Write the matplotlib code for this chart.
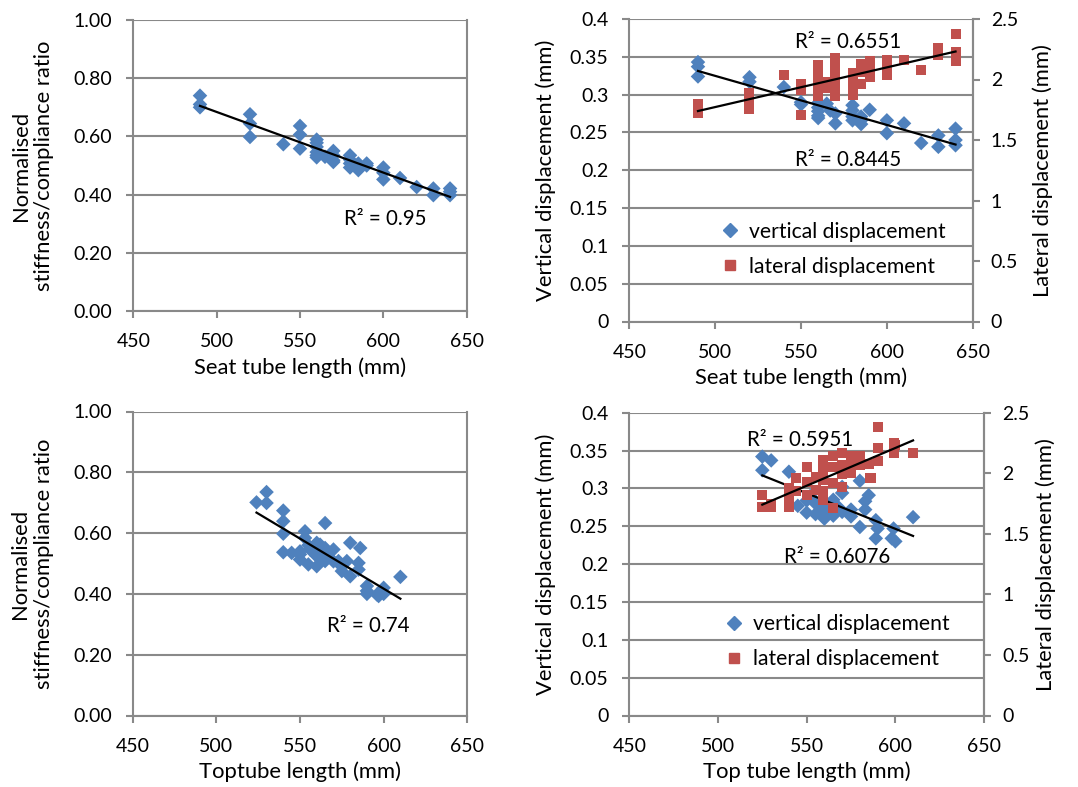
import numpy as np
import matplotlib
matplotlib.use("Agg")
import matplotlib.pyplot as plt
from matplotlib.lines import Line2D

plt.rcParams['font.family'] = ['Lato', 'DejaVu Sans']

# ---------------- data ----------------
# Panel A: seat tube length vs normalised stiffness/compliance ratio
seat_x_a = [490, 490, 490, 520, 520, 520, 540, 550, 550, 550, 560, 560, 560, 560, 560, 560,
            565, 570, 570, 570, 570, 580, 580, 580, 580, 585, 585, 590, 590, 600, 600, 600,
            610, 620, 630, 630, 640, 640, 640]
seat_ratio = [0.74, 0.71, 0.70, 0.676, 0.644, 0.598, 0.573, 0.636, 0.606, 0.558, 0.589, 0.578,
              0.564, 0.546, 0.535, 0.528, 0.53, 0.55, 0.535, 0.518, 0.512, 0.535, 0.52, 0.507,
              0.493, 0.484, 0.507, 0.507, 0.50, 0.493, 0.475, 0.452, 0.457, 0.426, 0.421,
              0.398, 0.421, 0.41, 0.398]

# Panel B: seat tube length vs displacements
seat_x_v = [490, 490, 490, 520, 520, 540, 550, 550, 560, 560, 560, 560, 560, 565, 567, 570, 570,
            580, 580, 580, 580, 585, 585, 585, 590, 600, 600, 610, 620, 630, 630, 640, 640, 640]
seat_vert = [0.343, 0.337, 0.324, 0.323, 0.317, 0.310, 0.290, 0.287, 0.289, 0.283, 0.278, 0.272,
             0.269, 0.288, 0.279, 0.275, 0.262, 0.286, 0.279, 0.271, 0.266, 0.271, 0.266, 0.261,
             0.280, 0.266, 0.249, 0.262, 0.236, 0.246, 0.231, 0.255, 0.240, 0.233]
seat_x_l = [490, 490, 490, 520, 520, 520, 520, 540, 550, 550, 550, 560, 560, 560, 560, 560, 560,
            560, 565, 565, 570, 570, 570, 570, 570, 570, 570, 580, 580, 580, 580, 585, 585, 585,
            590, 590, 590, 600, 600, 600, 610, 620, 630, 630, 640, 640, 640]
seat_lat = [1.72, 1.76, 1.80, 1.76, 1.80, 1.85, 1.89, 2.04, 1.96, 1.91, 1.71, 2.12, 2.08, 2.04,
            2.00, 1.95, 1.90, 1.86, 1.98, 1.93, 2.18, 2.13, 2.08, 2.02, 1.97, 1.92, 1.86, 2.05,
            1.99, 1.93, 1.87, 2.13, 2.06, 1.96, 2.15, 2.09, 2.02, 2.16, 2.10, 2.04, 2.16, 2.08,
            2.26, 2.20, 2.38, 2.23, 2.15]

# Panel C: top tube length vs normalised ratio
top_x_c = [524, 530, 530, 540, 540, 540, 540, 545, 550, 550, 553, 553, 555, 556, 560, 560, 560,
           560, 562, 565, 565, 566, 565, 570, 570, 573, 575, 578, 580, 580, 585, 585, 586, 590,
           590, 590, 596, 600, 600, 597, 610, 555, 558, 563, 567, 550, 575]
top_ratio = [0.701, 0.735, 0.699, 0.674, 0.639, 0.598, 0.537, 0.535, 0.53, 0.513, 0.606, 0.584,
             0.497, 0.546, 0.568, 0.552, 0.524, 0.491, 0.562, 0.633, 0.551, 0.53, 0.508, 0.546,
             0.507, 0.508, 0.475, 0.508, 0.568, 0.458, 0.502, 0.48, 0.551, 0.426, 0.41, 0.40,
             0.398, 0.42, 0.40, 0.393, 0.456, 0.56, 0.54, 0.52, 0.535, 0.54, 0.49]

# Panel D: top tube length vs displacements
top_x_v = [525, 530, 525, 540, 545, 550, 550, 555, 555, 560, 560, 565, 565, 570, 570, 570, 575,
           575, 580, 580, 583, 583, 585, 589, 590, 589, 599, 598, 600, 610, 558, 562, 568, 552]
top_vert = [0.342, 0.337, 0.324, 0.322, 0.277, 0.284, 0.268, 0.266, 0.28, 0.26, 0.278, 0.285,
            0.264, 0.302, 0.294, 0.269, 0.263, 0.272, 0.31, 0.249, 0.283, 0.272, 0.291, 0.258,
            0.247, 0.234, 0.247, 0.234, 0.23, 0.262, 0.27, 0.27, 0.275, 0.29]
top_x_l = [525, 525, 530, 530, 540, 540, 540, 544, 544, 550, 550, 550, 555, 555, 559, 559, 559,
           559, 559, 565, 565, 565, 565, 570, 570, 570, 570, 575, 575, 575, 580, 580, 585, 586,
           590, 590, 590, 599, 599, 600, 610]
top_lat = [1.82, 1.72, 1.72, 1.75, 1.88, 1.80, 1.725, 1.96, 1.85, 2.055, 1.93, 1.82, 1.97, 1.86,
           2.11, 2.03, 1.945, 1.85, 1.78, 2.14, 2.055, 1.92, 1.71, 2.17, 2.07, 1.99, 1.89, 2.14,
           2.0, 2.07, 2.14, 2.07, 2.08, 1.96, 2.38, 2.21, 2.10, 2.25, 2.17, 2.235, 2.17]

r2_a = "R² = 0.95"
r2_b_lat = "R² = 0.6551"
r2_b_vert = "R² = 0.8445"
r2_c = "R² = 0.74"
r2_d_lat = "R² = 0.5951"
r2_d_vert = "R² = 0.6076"

ratio_ticks = [0.0, 0.2, 0.4, 0.6, 0.8, 1.0]
vert_ticks = [0, 0.05, 0.1, 0.15, 0.2, 0.25, 0.3, 0.35, 0.4]
lat_ticks = [0, 0.5, 1, 1.5, 2, 2.5]
x_ticks = [450, 500, 550, 600, 650]

# ---------------- style ----------------
BLUE = '#4F81BD'
RED = '#C0504D'
GRID = '#898989'
FS_TICK = 14
FS_TITLE = 15.8
FS_R2 = 14.8
FS_LEG = 15.2

W, H = 1078, 787
fig = plt.figure(figsize=(W / 100, H / 100), dpi=100)


def px_axes(l, r, t, b):
    return fig.add_axes([l / W, 1 - b / H, (r - l) / W, (b - t) / H])


def style_axis(ax, right_spine=False):
    ax.set_xlim(450, 650)
    ax.set_xticks(x_ticks)
    ax.grid(axis='y', color=GRID, lw=1.5)
    ax.set_axisbelow(True)
    ax.spines['top'].set_visible(False)
    ax.spines['right'].set_visible(right_spine)
    for s in ['left', 'bottom', 'right']:
        ax.spines[s].set_color(GRID)
        ax.spines[s].set_linewidth(1.5)
    ax.tick_params(axis='both', direction='out', length=5, width=1.5, color=GRID,
                   labelsize=FS_TICK)
    ax.tick_params(axis='x', pad=11)
    ax.tick_params(axis='y', pad=10)


def trend(ax, x, y):
    x = np.asarray(x, float)
    y = np.asarray(y, float)
    m, c = np.polyfit(x, y, 1)
    xs = np.array([x.min(), x.max()])
    ax.plot(xs, m * xs + c, color='black', lw=1.6, zorder=5)


def ratio_panel(ax, x, y, r2, r2pos, xlabel):
    style_axis(ax, right_spine=True)
    ax.scatter(x, y, marker='D', s=55, color=BLUE, edgecolors='none', zorder=3)
    trend(ax, x, y)
    ax.set_ylim(0, 1.0)
    ax.set_yticks(ratio_ticks)
    ax.set_yticklabels([f"{v:.2f}" for v in ratio_ticks])
    ax.set_xlabel(xlabel, fontsize=FS_TITLE, labelpad=5)
    ax.set_ylabel("Normalised\nstiffness/compliance ratio", fontsize=FS_TITLE, labelpad=14,
                  linespacing=1.2)
    ax.text(r2pos[0], r2pos[1], r2, fontsize=FS_R2, ha='center', va='center')


def disp_panel(ax, xv, v, xl, lat, r2_lat, pos_lat, r2_vert, pos_vert, xlabel, leg_anchor,
               rpad):
    style_axis(ax, right_spine=True)
    ax.set_ylim(0, 0.4)
    ax.set_yticks(vert_ticks)
    ax.set_yticklabels(["0", "0.05", "0.1", "0.15", "0.2", "0.25", "0.3", "0.35", "0.4"])
    ax.set_xlabel(xlabel, fontsize=FS_TITLE, labelpad=5)
    ax.set_ylabel("Vertical displacement (mm)", fontsize=FS_TITLE, labelpad=10)
    ax.scatter(xv, v, marker='D', s=55, color=BLUE, edgecolors='none', zorder=3)
    ax2 = ax.twinx()
    ax2.set_ylim(0, 2.5)
    ax2.set_yticks(lat_ticks)
    ax2.set_yticklabels(["0", "0.5", "1", "1.5", "2", "2.5"])
    for s in ['top', 'left', 'bottom']:
        ax2.spines[s].set_visible(False)
    ax2.spines['right'].set_color(GRID)
    ax2.spines['right'].set_linewidth(1.5)
    ax2.tick_params(axis='y', direction='out', length=5, width=1.5, color=GRID,
                    labelsize=FS_TICK, pad=8)
    ax2.set_ylabel("Lateral displacement (mm)", fontsize=FS_TITLE, labelpad=rpad, rotation=90)
    ax2.scatter(xl, lat, marker='s', s=52, color=RED, edgecolors='none', zorder=3)
    trend(ax, xv, v)
    trend(ax2, xl, lat)
    ax2.text(pos_lat[0], pos_lat[1], r2_lat, fontsize=FS_R2, ha='center', va='center')
    ax2.text(pos_vert[0], pos_vert[1] * 6.25, r2_vert, fontsize=FS_R2, ha='center', va='center')
    handles = [Line2D([], [], ls='none', marker='D', ms=7.5, color=BLUE),
               Line2D([], [], ls='none', marker='s', ms=7.5, color=RED)]
    ax2.legend(handles, ["vertical displacement", "lateral displacement"], loc='upper left',
               bbox_to_anchor=leg_anchor, frameon=False, fontsize=FS_LEG, handlelength=0.8,
               handletextpad=0.5, labelspacing=0.72, borderpad=0, borderaxespad=0)


axA = px_axes(133.3, 466.7, 20, 311)
ratio_panel(axA, seat_x_a, seat_ratio, r2_a, (601, 0.315), "Seat tube length (mm)")

axB = px_axes(629.3, 972.7, 19, 321.5)
disp_panel(axB, seat_x_v, seat_vert, seat_x_l, seat_lat, r2_b_lat, (577.4, 0.3695 * 6.25),
           r2_b_vert, (577.4, 0.213), "Seat tube length (mm)", (0.27, 0.33), 10)

axC = px_axes(132.7, 467.3, 411.5, 715.5)
ratio_panel(axC, top_x_c, top_ratio, r2_c, (591, 0.293), "Toptube length (mm)")

axD = px_axes(629.3, 984, 412.7, 715.5)
disp_panel(axD, top_x_v, top_vert, top_x_l, top_lat, r2_d_lat, (546.2, 0.364 * 6.25),
           r2_d_vert, (567, 0.21), "Top tube length (mm)", (0.27, 0.335), 4)

fig.savefig("out.png", dpi=100)
